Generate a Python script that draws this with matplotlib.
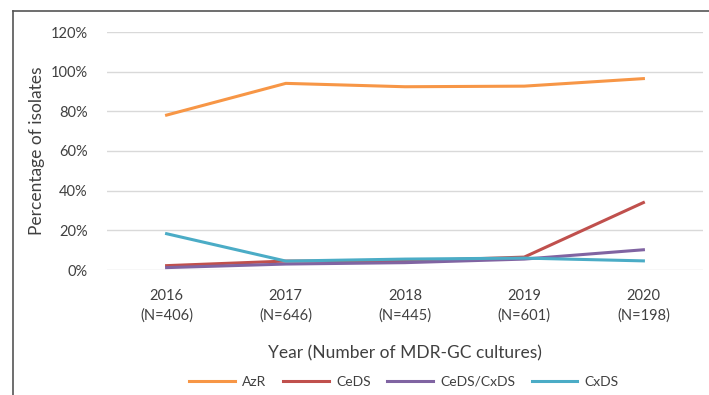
import matplotlib.pyplot as plt
from matplotlib.lines import Line2D
from matplotlib.ticker import FuncFormatter

plt.rcParams['font.family'] = ['Lato', 'DejaVu Sans']

years = ['2016', '2017', '2018', '2019', '2020']
counts = [406, 646, 445, 601, 198]
azr = [78.1, 94.1, 92.4, 92.7, 96.5]
ceds = [2.2, 4.5, 4.5, 6.5, 34.0]
ceds_cxds = [1.2, 3.0, 3.7, 5.5, 10.2]
cxds = [18.3, 4.5, 5.5, 6.0, 4.6]

text_col = '#404040'
fig = plt.figure(figsize=(7.09, 3.95), dpi=100)
ax = fig.add_axes([107/709, (395-270)/395, 596/709, 238/395])

x = range(len(years))
ax.plot(x, azr, color='#F79646', lw=2.2, label='AzR')
ax.plot(x, ceds, color='#C0504D', lw=2.2, label='CeDS')
ax.plot(x, ceds_cxds, color='#8064A2', lw=2.2, label='CeDS/CxDS')
ax.plot(x, cxds, color='#4BACC6', lw=2.2, label='CxDS')

ax.set_xlim(-0.5, len(years) - 0.5)
ax.set_ylim(0, 120)
ax.set_yticks(range(0, 121, 20))
ax.yaxis.set_major_formatter(FuncFormatter(lambda v, p: f'{v:.0f}%'))
ax.set_xticks(list(x))
ax.set_xticklabels([f'{y}\n(N={n})' for y, n in zip(years, counts)], linespacing=1.45)
ax.tick_params(length=0, labelsize=10.5, colors=text_col, pad=14)
ax.tick_params(axis='x', pad=14)
ax.grid(axis='y', color='#D9D9D9', lw=1)
ax.set_axisbelow(True)
for s in ax.spines.values():
    s.set_visible(False)

ax.set_ylabel('Percentage of isolates', fontsize=12.5, color=text_col, labelpad=4)
ax.set_xlabel('Year (Number of MDR-GC cultures)', fontsize=12.5, color=text_col, labelpad=16)
ax.legend(loc='center', bbox_to_anchor=(404/709, 1 - 382/395), bbox_transform=fig.transFigure,
          ncol=4, frameon=False, fontsize=10, handlelength=3.3, columnspacing=1.2,
          handletextpad=0.5, labelcolor=text_col)

# frame of the cropped figure
fig.add_artist(Line2D([12.5/709, 12.5/709], [0, 1 - 11/395], color='#555555', lw=1.2))
fig.add_artist(Line2D([12.5/709, 1], [1 - 11/395, 1 - 11/395], color='#555555', lw=1.2))

fig.savefig('out.png', dpi=100)
